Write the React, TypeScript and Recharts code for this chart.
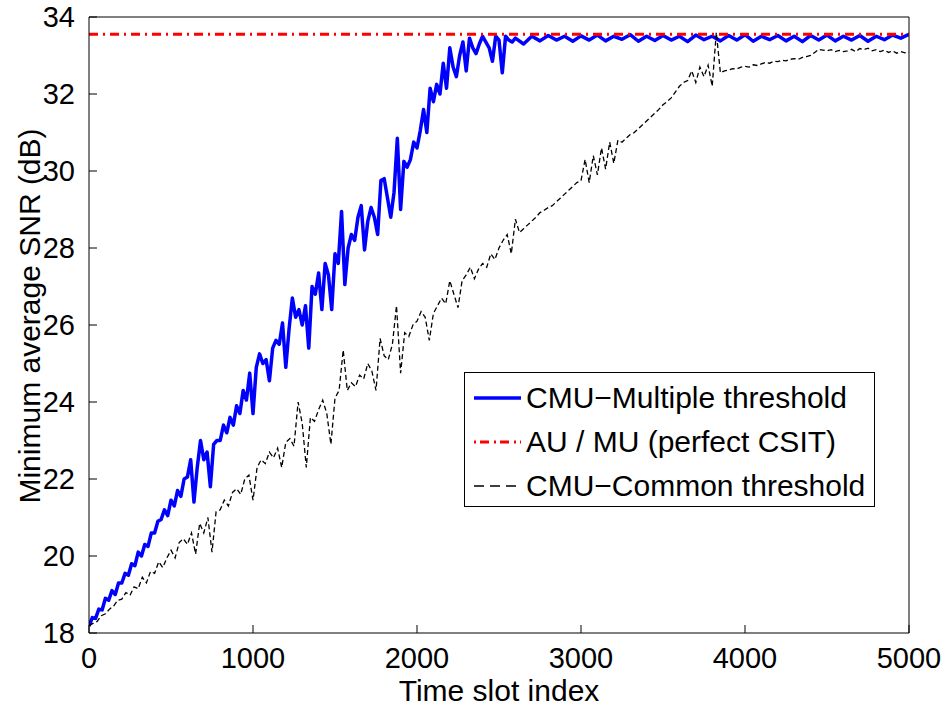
import { LineChart, Line, XAxis, YAxis, Legend } from "recharts";

// time-slot ticks and SNR ticks
const xTicks = [0, 1000, 2000, 3000, 4000, 5000];
const yTicks = [18, 20, 22, 24, 26, 28, 30, 32, 34];

// CMU - multiple threshold, slots 0..2600 every 20
const multiRiseY = [
  18.18, 18.4, 18.38, 18.62, 18.6, 18.9, 18.85, 19.1, 19.0, 19.3,
  19.3, 19.55, 19.5, 19.8, 19.75, 20.1, 20.0, 20.3, 20.25, 20.6,
  20.6, 20.9, 20.95, 21.2, 21.05, 21.45, 21.3, 21.7, 21.55, 22.0,
  22.05, 22.5, 21.4, 22.3, 23.0, 22.5, 22.7, 21.8, 22.9, 23.0,
  23.0, 23.4, 23.2, 23.6, 23.4, 23.9, 23.7, 24.3, 24.05, 24.75,
  23.7, 24.9, 25.25, 25.0, 25.1, 24.55, 25.4, 25.6, 25.5, 26.05,
  24.9, 25.9, 26.7, 26.2, 26.4, 26.0, 26.5, 25.4, 27.0, 26.8,
  27.35, 26.4, 27.6, 27.3, 26.4, 27.85, 27.6, 28.95, 27.05, 28.0,
  28.35, 28.2, 28.8, 29.1, 27.95, 28.7, 29.05, 28.8, 28.35, 29.75,
  29.8, 29.3, 28.8, 29.45, 30.85, 29.0, 30.25, 30.1, 30.3, 30.75,
  30.6, 31.05, 31.6, 31.0, 32.15, 31.8, 32.25, 32.0, 32.8, 32.15,
  33.2, 32.7, 32.45, 33.0, 33.35, 32.6, 33.45, 33.2, 33.05, 33.3,
  33.5, 33.35, 33.2, 32.85, 33.5, 33.4, 32.55, 33.5, 33.4, 33.35,
  33.45,
];

// CMU - multiple threshold, slots 2650..5000 every 50
const multiFlatY = [
  33.3, 33.5, 33.38, 33.52, 33.4, 33.5, 33.37, 33.51,
  33.4, 33.53, 33.38, 33.5, 33.42, 33.54, 33.37, 33.5,
  33.39, 33.52, 33.4, 33.5, 33.36, 33.53, 33.41, 33.5,
  33.38, 33.52, 33.4, 33.54, 33.37, 33.5, 33.41, 33.52,
  33.38, 33.5, 33.36, 33.52, 33.4, 33.53, 33.38, 33.5,
  33.4, 33.52, 33.37, 33.5, 33.41, 33.53, 33.45, 33.55,
];

// AU / MU with perfect CSIT (constant)
const perfectX = [0, 5000];
const perfectY = [33.55, 33.55];

// CMU - common threshold, slots 0..5000 every 25
const commonY = [
  18.2, 18.25, 18.3, 18.45, 18.5, 18.62, 18.7, 18.85,
  18.88, 19.05, 18.98, 19.2, 19.15, 19.45, 19.3, 19.6,
  19.55, 19.85, 19.7, 19.95, 20.15, 19.95, 20.35, 20.45,
  20.3, 20.6, 20.05, 20.85, 20.6, 21.0, 20.1, 21.15,
  21.2, 21.45, 21.3, 21.65, 21.75, 21.6, 22.0, 22.1,
  21.45, 22.3, 22.5, 22.4, 22.7, 22.55, 22.8, 22.3,
  22.95, 23.05, 22.85, 24.0, 23.45, 22.3, 23.6, 23.5,
  23.8, 24.05, 23.7, 22.9, 24.1, 24.3, 25.35, 24.3,
  24.5, 24.4, 24.7, 24.6, 25.0, 24.8, 24.3, 25.65,
  25.2, 25.1, 25.5, 26.5, 24.75, 25.8, 25.7, 26.0,
  26.1, 26.35, 26.2, 25.6, 26.3, 26.5, 26.7, 26.55,
  27.15, 26.8, 26.45, 27.15, 27.3, 27.5, 27.2, 27.45,
  27.6, 27.5, 27.85, 27.7, 28.0, 28.2, 28.35, 27.85,
  28.75, 28.4, 28.5, 28.6, 28.7, 28.8, 28.92, 28.98,
  29.05, 29.1, 29.2, 29.3, 29.4, 29.5, 29.6, 29.7,
  29.75, 30.3, 29.7, 30.4, 29.9, 30.6, 30.05, 30.75,
  30.2, 30.8, 30.75, 30.85, 30.95, 31.0, 31.1, 31.2,
  31.3, 31.4, 31.5, 31.6, 31.72, 31.8, 31.9, 32.05,
  32.2, 32.3, 32.35, 32.6, 32.3, 32.7, 32.45, 32.75,
  32.2, 33.6, 32.55, 32.6, 32.62, 32.66, 32.65, 32.7,
  32.72, 32.7, 32.76, 32.74, 32.78, 32.82, 32.8, 32.85,
  32.84, 32.88, 32.86, 32.9, 32.92, 32.9, 32.95, 32.97,
  33.0, 33.08, 33.16, 33.14, 33.12, 33.15, 33.1, 33.13,
  33.1, 33.12, 33.16, 33.1, 33.18, 33.15, 33.19, 33.12,
  33.15, 33.1, 33.14, 33.08, 33.12, 33.06, 33.1, 33.07,
  33.08,
];

const multiData = [
  ...multiRiseY.map((y, i) => ({ x: i * 20, y })),
  ...multiFlatY.map((y, i) => ({ x: 2650 + i * 50, y })),
];
const perfectData = perfectX.map((x, i) => ({ x, y: perfectY[i] }));
const commonData = commonY.map((y, i) => ({ x: i * 25, y }));

const FONT = '"Liberation Sans", Arial, Helvetica, sans-serif';

const legendRows = [
  { label: "CMU\u2212Multiple threshold", color: "#0000ff", width: 3.5, dash: undefined },
  { label: "AU / MU (perfect CSIT)", color: "#ff0000", width: 3, dash: "2 4 9 5" },
  { label: "CMU\u2212Common threshold", color: "#000000", width: 1.3, dash: "10 6" },
];

function renderLegend() {
  return (
    <div
      style={{
        border: "1.5px solid #000",
        background: "#fff",
        boxSizing: "border-box",
        width: 411,
        height: 135,
        paddingTop: 3,
        fontFamily: FONT,
        fontSize: 30,
        color: "#000",
      }}
    >
      {legendRows.map((r) => (
        <div
          key={r.label}
          style={{ display: "flex", alignItems: "center", height: 44, whiteSpace: "nowrap" }}
        >
          <svg width={56} height={10} style={{ marginLeft: 8, marginRight: 4 }}>
            <line
              x1={1}
              x2={48}
              y1={5}
              y2={5}
              stroke={r.color}
              strokeWidth={r.width}
              strokeDasharray={r.dash}
            />
          </svg>
          <span style={{ marginLeft: -7 }}>{r.label}</span>
        </div>
      ))}
    </div>
  );
}

function renderYLabel() {
  const cx = 29;
  const cy = 316;
  return (
    <text
      x={cx}
      y={cy}
      transform={`rotate(-90, ${cx}, ${cy})`}
      textAnchor="middle"
      dominantBaseline="central"
      fontSize={30}
      fill="#000"
      fontFamily={FONT}
    >
      Minimum average SNR (dB)
    </text>
  );
}

export default function App() {
  return (
    <div style={{ width: 948, height: 707, fontFamily: FONT, background: "#fff" }}>
      <style>{`body{margin:0;background:#fff}`}</style>
      <LineChart width={948} height={707} margin={{ top: 0, right: 0, bottom: 0, left: 0 }}>
        <XAxis
          dataKey="x"
          type="number"
          domain={[0, 5000]}
          ticks={xTicks}
          interval={0}
          allowDataOverflow
          height={74}
          stroke="#000"
          tickSize={-8}
          tickMargin={22}
          tick={{ fontSize: 29, fill: "#000", fontFamily: FONT }}
          label={{
            value: "Time slot index",
            position: "insideBottom",
            offset: 6,
            style: { fontSize: 30, fill: "#000", fontFamily: FONT },
          }}
        />
        <XAxis
          xAxisId="top"
          orientation="top"
          dataKey="x"
          type="number"
          domain={[0, 5000]}
          ticks={xTicks}
          interval={0}
          allowDataOverflow
          height={17}
          stroke="#000"
          tickSize={-8}
          tick={false}
        />
        <YAxis
          type="number"
          domain={[18, 34]}
          ticks={yTicks}
          interval={0}
          allowDataOverflow
          width={89}
          stroke="#000"
          tickSize={-8}
          tickMargin={22}
          tick={{ fontSize: 29, fill: "#000", fontFamily: FONT }}
          label={{ content: renderYLabel }}
        />
        <YAxis
          yAxisId="right"
          orientation="right"
          type="number"
          domain={[18, 34]}
          ticks={yTicks}
          interval={0}
          allowDataOverflow
          width={39}
          stroke="#000"
          tickSize={-8}
          tick={false}
        />
        <Line
          data={multiData}
          dataKey="y"
          stroke="#0000ff"
          strokeWidth={3.5}
          dot={false}
          activeDot={false}
          isAnimationActive={false}
          strokeLinejoin="round"
        />
        <Line
          data={perfectData}
          dataKey="y"
          stroke="#ff0000"
          strokeWidth={3}
          strokeDasharray="9 5 2 5"
          dot={false}
          activeDot={false}
          isAnimationActive={false}
        />
        <Line
          data={commonData}
          dataKey="y"
          stroke="#000000"
          strokeWidth={1.3}
          strokeDasharray="5 3"
          dot={false}
          activeDot={false}
          isAnimationActive={false}
        />
        <Legend
          layout="horizontal"
          verticalAlign="middle"
          align="center"
          content={renderLegend}
          wrapperStyle={{ left: 464, top: 372, width: 411, height: 135 }}
        />
      </LineChart>
    </div>
  );
}
